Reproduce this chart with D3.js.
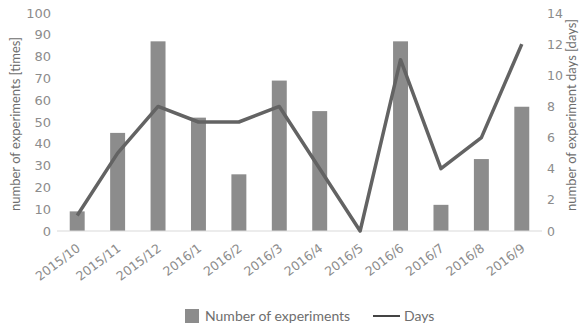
<!DOCTYPE html>
<html>
<head>
<meta charset="utf-8">
<script src="https://cdn.jsdelivr.net/npm/d3@7"></script>
<style>
  html, body { margin: 0; padding: 0; background: #fff; }
  svg { display: block; font-family: Lato, "Open Sans", sans-serif; }
</style>
</head>
<body>
<svg id="chart" width="580" height="329"></svg>
<script>
// Monthly experiment counts (bars, left axis) and experiment days (line, right axis)
const months = ["2015/10","2015/11","2015/12","2016/1","2016/2","2016/3",
                "2016/4","2016/5","2016/6","2016/7","2016/8","2016/9"];
const experiments = [9, 45, 87, 52, 26, 69, 55, 0, 87, 12, 33, 57];
const days = [1, 5, 8, 7, 7, 8, 4, 0, 11, 4, 6, 12];
const leftTicks = [0, 10, 20, 30, 40, 50, 60, 70, 80, 90, 100];
const rightTicks = [0, 2, 4, 6, 8, 10, 12, 14];

const svg = d3.select("#chart");
const margin = { left: 57, right: 38, top: 13, bottom: 98 };
const W = 580, H = 329;
const x0 = margin.left, x1 = W - margin.right;
const yTop = margin.top, yBot = H - margin.bottom;

const x = d3.scaleBand().domain(months).range([x0, x1]).paddingInner(0.63).paddingOuter(0.315);
const yL = d3.scaleLinear().domain([0, 100]).range([yBot, yTop]);
const yR = d3.scaleLinear().domain([0, 14]).range([yBot, yTop]);

const tickColor = "#8c8c8c";
const tickFont = "'DejaVu Sans', sans-serif";

// bars
svg.append("g").selectAll("rect").data(experiments).join("rect")
  .attr("x", (d, i) => x(months[i]))
  .attr("y", d => yL(d))
  .attr("width", x.bandwidth())
  .attr("height", d => yBot - yL(d))
  .attr("fill", "#8c8c8c");

// baseline
svg.append("line")
  .attr("x1", x0).attr("x2", x1).attr("y1", yBot).attr("y2", yBot)
  .attr("stroke", "#d9d9d9").attr("stroke-width", 1);

// left axis
const gL = svg.append("g").attr("transform", `translate(${x0},0)`)
  .call(d3.axisLeft(yL).tickValues(leftTicks).tickSize(0).tickPadding(6));
gL.select(".domain").remove();
gL.selectAll("text").attr("fill", tickColor).style("font-size", "13px").style("font-family", tickFont);

// right axis
const gR = svg.append("g").attr("transform", `translate(${x1},0)`)
  .call(d3.axisRight(yR).tickValues(rightTicks).tickSize(0).tickPadding(5));
gR.select(".domain").remove();
gR.selectAll("text").attr("fill", tickColor).style("font-size", "12.5px").style("font-family", tickFont);

// x axis labels, rotated
const gX = svg.append("g").attr("transform", `translate(0,${yBot})`)
  .call(d3.axisBottom(x).tickSize(0).tickPadding(0));
gX.select(".domain").remove();
gX.selectAll("text")
  .attr("fill", tickColor)
  .style("font-size", "12.5px").style("font-family", tickFont)
  .attr("text-anchor", "end")
  .attr("dy", "0")
  .attr("transform", "translate(4,19) rotate(-37)");

// days line
const cx = m => x(m) + x.bandwidth() / 2;
svg.append("path")
  .datum(days)
  .attr("fill", "none")
  .attr("stroke", "#636363")
  .attr("stroke-width", 3.5)
  .attr("stroke-linejoin", "round")
  .attr("d", d3.line().x((d, i) => cx(months[i])).y(d => yR(d)));

// axis titles
svg.append("text")
  .attr("transform", `translate(20,${(yTop + yBot) / 2 + 2}) rotate(-90)`)
  .attr("text-anchor", "middle").attr("fill", "#6e6e6e")
  .style("font-size", "13px")
  .text("number of experiments [times]");
svg.append("text")
  .attr("transform", `translate(576,${(yTop + yBot) / 2 - 7}) rotate(-90)`)
  .attr("text-anchor", "middle").attr("fill", "#6e6e6e")
  .style("font-size", "13px")
  .text("number of experiment days [days]");

// legend
const lg = svg.append("g").attr("transform", "translate(0,316)");
lg.append("rect").attr("x", 185).attr("y", -7).attr("width", 14).attr("height", 14).attr("fill", "#8c8c8c");
lg.append("text").attr("x", 205).attr("y", 5).attr("fill", "#6e6e6e").style("font-size", "14px").text("Number of experiments");
lg.append("line").attr("x1", 373).attr("x2", 400).attr("y1", 0).attr("y2", 0).attr("stroke", "#444").attr("stroke-width", 2);
lg.append("text").attr("x", 404).attr("y", 5).attr("fill", "#6e6e6e").style("font-size", "14px").text("Days");
</script>
</body>
</html>
